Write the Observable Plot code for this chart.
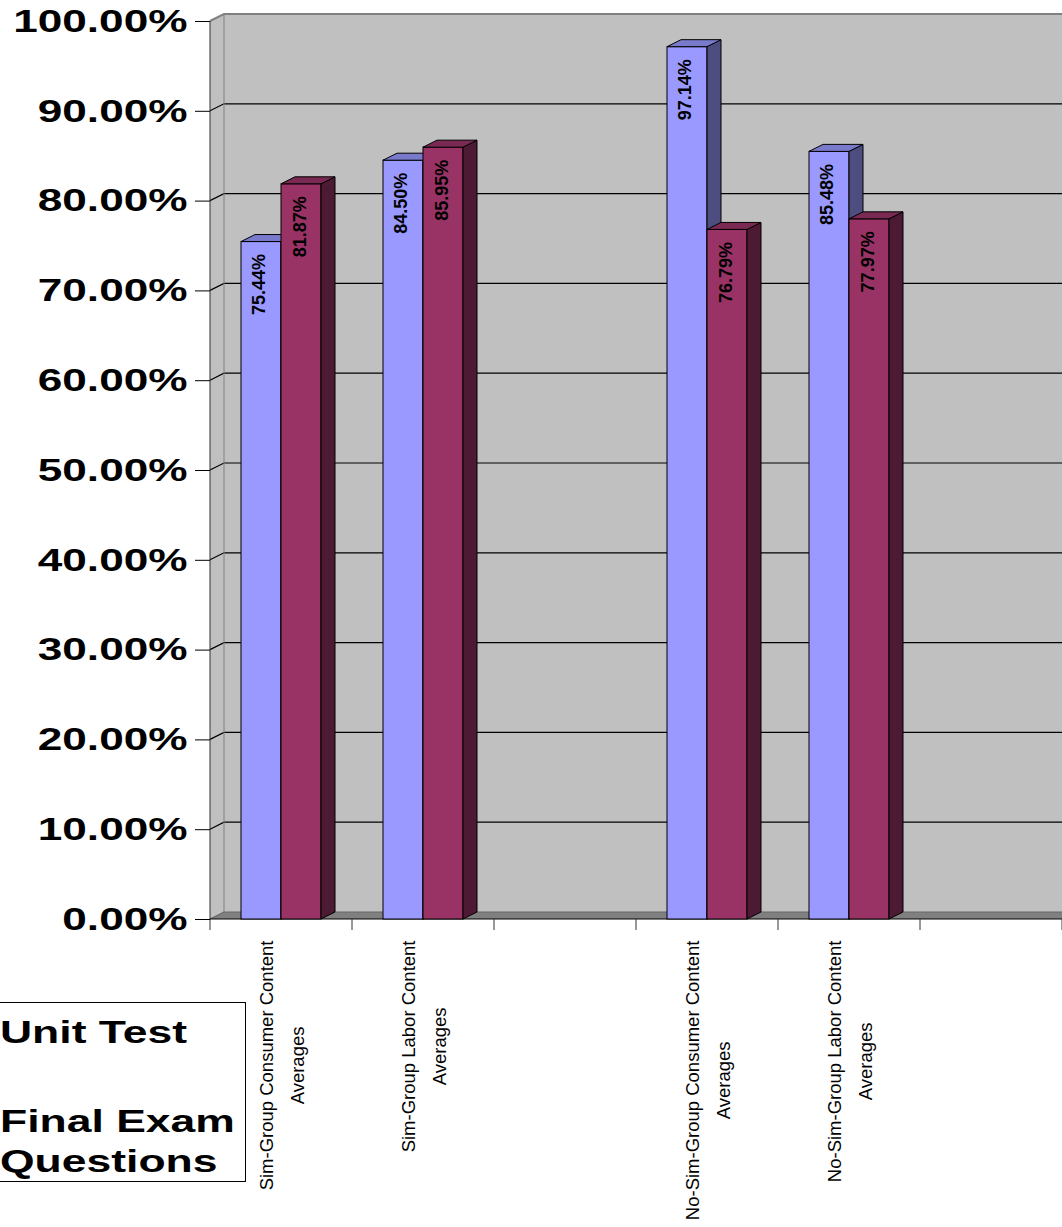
<!DOCTYPE html>
<html>
<head>
<meta charset="utf-8">
<script src="https://cdn.jsdelivr.net/npm/d3@7"></script>
<script src="https://cdn.jsdelivr.net/npm/@observablehq/plot@0.6"></script>
<style>
  body { margin: 0; background: #fff; font-family: "Liberation Sans", Arial, sans-serif; }
  #wrap { position: relative; width: 1062px; height: 1227px; overflow: hidden; }
  #legend { position: absolute; left: -40px; top: 1002px; width: 286px; height: 180px;
            border: 1px solid #000; box-sizing: border-box; background: #fff; }
  .li { position: absolute; left: 39px; font: bold 32px "Liberation Sans", Arial, sans-serif;
        line-height: 1; white-space: nowrap; transform: scaleX(1.39); transform-origin: 0 0; color: #000; }
</style>
</head>
<body>
<div id="wrap">
  <div id="chart"></div>
  <div id="legend">
    <span class="li" style="top:13px">Unit Test</span>
    <span class="li" style="top:102px">Final Exam</span>
    <span class="li" style="top:142px">Questions</span>
  </div>
</div>
<script>
// ---------- data ----------
const categories = ["sim-consumer", "sim-labor", "gap-1", "nosim-consumer", "nosim-labor", "gap-2"];
const categoryLabels = [
  "Sim-Group Consumer Content\nAverages",
  "Sim-Group Labor Content\nAverages",
  "",
  "No-Sim-Group Consumer Content\nAverages",
  "No-Sim-Group Labor Content\nAverages",
  ""
];
const series = ["Unit Test", "Final Exam Questions"];
const unitTest  = [0.7544, 0.8450, null, 0.9714, 0.8548, null];
const finalExam = [0.8187, 0.8595, null, 0.7679, 0.7797, null];
const yTicks = [0, 0.1, 0.2, 0.3, 0.4, 0.5, 0.6, 0.7, 0.8, 0.9, 1.0];

// ---------- styles / layout ----------
const seriesColors = {
  "Unit Test":            {front: "#9999FF", top: "#7A7ACC", side: "#4D4D80"},
  "Final Exam Questions": {front: "#993366", top: "#7A2952", side: "#4D1A33"}
};
const W = 1062, H = 1227, ML = 210, MR = 0, MT = 21, MB = 308;
const DX = 14, DY = -7;          // 3-D depth offset
const BAR = 40;                  // bar width in px
const BAND = (W - ML - MR) / categories.length;
const WALL = "#C0C0C0";

const values = [unitTest, finalExam];
const rowsFor = (si) => categories
  .map((c, i) => ({cat: c, series: series[si], value: values[si][i]}))
  .filter(d => d.value != null);
const rowsA = rowsFor(0), rowsB = rowsFor(1);
const labelRows = categories.map((c, i) => ({cat: c, label: categoryLabels[i]})).filter(d => d.label);

// walls, floor, gridlines
const walls = (index, {x, y}, v, dims) => {
  const g = d3.create("svg:g");
  const x0 = dims.marginLeft, R = dims.width + 30;
  const y0 = y(0), y1 = y(1);
  g.append("rect").attr("x", x0 + DX).attr("y", y1 + DY).attr("width", R - x0 - DX).attr("height", y0 - y1).attr("fill", WALL);
  g.append("path").attr("d", `M${x0},${y0}L${x0},${y1}L${x0+DX},${y1+DY}L${x0+DX},${y0+DY}Z`).attr("fill", WALL);
  g.append("path").attr("d", `M${x0},${y0}L${x0+DX},${y0+DY}L${R},${y0+DY}L${R},${y0}Z`).attr("fill", "#808080");
  // gridlines
  for (const t of yTicks) {
    if (t <= 0 || t >= 1) continue;
    const yy = y(t);
    g.append("path").attr("d", `M${x0},${yy}L${x0+DX},${yy+DY}L${R},${yy+DY}`)
      .attr("fill", "none").attr("stroke", "#000").attr("stroke-width", 1.2);
  }
  // edges
  g.append("path").attr("d", `M${x0},${y1}L${x0+DX},${y1+DY}L${R},${y1+DY}`).attr("fill", "none").attr("stroke", "#808080").attr("stroke-width", 2);
  g.append("line").attr("x1", x0 + DX).attr("x2", x0 + DX).attr("y1", y1 + DY).attr("y2", y0 + DY).attr("stroke", "#808080");
  g.append("path").attr("d", `M${x0},${y0}L${x0+DX},${y0+DY}L${R},${y0+DY}`).attr("fill", "none").attr("stroke", "#666").attr("stroke-width", 1.2);
  g.append("line").attr("x1", x0).attr("x2", x0).attr("y1", y1).attr("y2", y0).attr("stroke", "#333");
  g.append("line").attr("x1", x0).attr("x2", R).attr("y1", y0).attr("y2", y0).attr("stroke", "#000").attr("stroke-width", 1.2);
  // x ticks at category boundaries
  const bw = x.bandwidth();
  const bounds = categories.map(c => x(c)).concat([x(categories[categories.length - 1]) + bw]);
  for (const b of bounds) {
    g.append("line").attr("x1", b).attr("x2", b).attr("y1", y0).attr("y2", y0 + 11).attr("stroke", "#333");
  }
  return g.node();
};

// top and side faces of the 3-D columns
const faces = (data, si) => (index, {x, y}) => {
  const g = d3.create("svg:g");
  const bw = x.bandwidth();
  const col = seriesColors[series[si]];
  for (const d of data) {
    const xl = x(d.cat) + bw / 2 + (si === 0 ? -BAR : 0), xr = xl + BAR;
    const yt = y(d.value), yb = y(0);
    g.append("path").attr("d", `M${xr},${yb}L${xr},${yt}L${xr+DX},${yt+DY}L${xr+DX},${yb+DY}Z`)
      .attr("fill", col.side).attr("stroke", "#000").attr("stroke-linejoin", "round");
    g.append("path").attr("d", `M${xl},${yt}L${xr},${yt}L${xr+DX},${yt+DY}L${xl+DX},${yt+DY}Z`)
      .attr("fill", col.top).attr("stroke", "#000").attr("stroke-linejoin", "round");
  }
  return g.node();
};

const front = (data, si) => Plot.barY(data, {
  x: "cat", y: "value",
  fill: seriesColors[series[si]].front, stroke: "#000", strokeWidth: 1,
  insetLeft: si === 0 ? BAND / 2 - BAR : BAND / 2,
  insetRight: si === 0 ? BAND / 2 : BAND / 2 - BAR
});

const valueLabels = (data, si) => Plot.text(data, {
  x: "cat", y: "value",
  text: d => d3.format(".2%")(d.value),
  rotate: -90, textAnchor: "end", lineAnchor: "middle",
  dx: si === 0 ? -BAR / 2 - 2 : BAR / 2 - 1, dy: 12,
  fontSize: 18, fontWeight: "bold", fill: "#000"
});

const chart = Plot.plot({
  width: W, height: H,
  marginLeft: ML, marginRight: MR, marginTop: MT, marginBottom: MB,
  style: {fontFamily: "'Liberation Sans', Arial, sans-serif", background: "transparent", color: "#000"},
  x: {type: "band", domain: categories, padding: 0, axis: null},
  y: {domain: [0, 1], axis: null},
  marks: [
    walls,
    Plot.axisY({ticks: yTicks, tickFormat: d3.format(".2%"), tickSize: 15, tickPadding: 8,
                fontSize: 32, fontWeight: "bold", label: null, stroke: "#000"}),
    front(rowsA, 0), faces(rowsA, 0),
    front(rowsB, 1), faces(rowsB, 1),
    valueLabels(rowsA, 0), valueLabels(rowsB, 1),
    Plot.text(labelRows, {
      x: "cat", text: "label", frameAnchor: "bottom",
      rotate: -90, textAnchor: "end", lineAnchor: "middle", lineHeight: 1.65,
      dx: -3, dy: 21, fontSize: 18.5, fill: "#000", ariaLabel: () => "x-label"
    })
  ]
});
document.getElementById("chart").appendChild(chart);

// stretch y-axis labels horizontally like the original rendering
chart.querySelectorAll('g[aria-label="y-axis tick label"] text').forEach(t => {
  const L = t.getComputedTextLength();
  t.setAttribute("textLength", L * 1.38);
  t.setAttribute("lengthAdjust", "spacingAndGlyphs");
});
// center second line of category labels under the first
chart.querySelectorAll('text').forEach(t => {
  const sp = t.querySelectorAll("tspan");
  if (sp.length > 1) {
    const L1 = sp[0].getComputedTextLength(), L2 = sp[1].getComputedTextLength();
    sp[1].setAttribute("x", -(L1 - L2) / 2);
  }
});
</script>
</body>
</html>
